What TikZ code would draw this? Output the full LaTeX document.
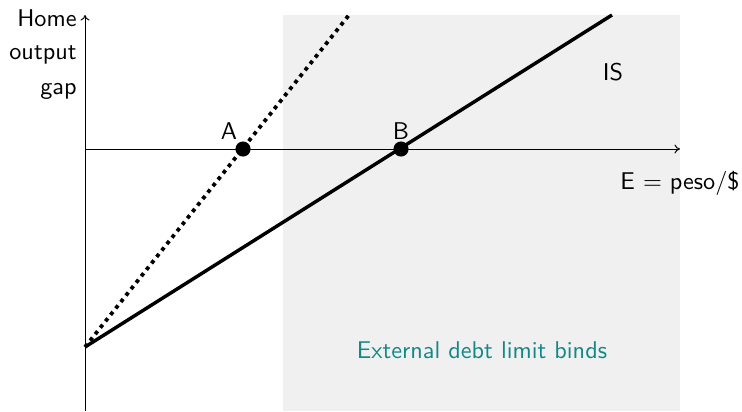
\documentclass[tikz,border=0pt]{standalone}
\usepackage{tikz}
\usetikzlibrary{arrows.meta}
\definecolor{bggray}{RGB}{240,240,240}
\definecolor{labelteal}{RGB}{20,135,135}
\begin{document}
\begin{tikzpicture}[x=0.45pt,y=-0.45pt,font=\sffamily\fontsize{10.9}{13}\selectfont,
  axisline/.style={line width=0.45pt,-{To[length=2.5pt,width=4pt]}},
  curve/.style={line width=1.55pt},
  dotcurve/.style={line width=1.7pt,dash pattern=on 1.7pt off 2pt},
  eqdot/.style={circle,fill=black,inner sep=0pt,minimum size=6.8pt},
  txt/.style={inner sep=0pt}]
\useasboundingbox (0,0) rectangle (742,411);
\fill[bggray] (283,15) rectangle (680,411);
\coordinate (O) at (85,149);
\coordinate (ybot) at (85,411);
\coordinate (ytop) at (85,15);
\coordinate (xend) at (680,149);
\coordinate (P) at (85,347);
\coordinate (Send) at (612,15);
\coordinate (Dend) at (349,15);
\draw[axisline] (ybot) -- (ytop);
\draw[axisline] (O) -- (xend);
\draw[curve] (P) -- (Send);
\draw[dotcurve] (P) -- (Dend);
\node[eqdot] (A) at (243,149) {};
\node[eqdot] (B) at (401,149) {};
\node[txt] (Alab) at (229,131) {A};
\node[txt] (Blab) at (401,131) {B};
\node[txt,anchor=east] (home) at (77,18) {Home};
\node[txt,anchor=east] (output) at (77,55) {output};
\node[txt,anchor=east] (gap) at (77,91) {gap};
\node[txt] (IS) at (613,72) {IS};
\node[txt,anchor=east] (E) at (740,183) {E $=$ peso/\$};
\node[txt,text=labelteal] (ext) at (482,350) {External debt limit binds};
\end{tikzpicture}
\end{document}
